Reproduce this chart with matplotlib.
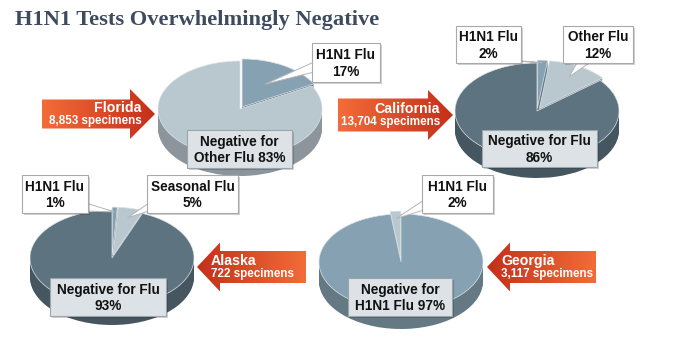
import numpy as np
import matplotlib
matplotlib.use("Agg")
import matplotlib.pyplot as plt
from matplotlib.patches import Polygon, Rectangle
from matplotlib.colors import LinearSegmentedColormap, to_rgb

W, H = 685, 361

title = "H1N1 Tests Overwhelmingly Negative"

# state panels
states = ["Florida", "California", "Alaska", "Georgia"]
specimens = ["8,853 specimens", "13,704 specimens", "722 specimens", "3,117 specimens"]

fl_values = [17, 83]
fl_labels = ["H1N1 Flu\n17%", "Negative for\nOther Flu 83%"]

ca_values = [2, 12, 86]
ca_labels = ["H1N1 Flu\n2%", "Other Flu\n12%", "Negative for Flu\n86%"]

ak_values = [1, 5, 93]
ak_labels = ["H1N1 Flu\n1%", "Seasonal Flu\n5%", "Negative for Flu\n93%"]

ga_values = [2, 97]
ga_labels = ["H1N1 Flu\n2%", "Negative for\nH1N1 Flu 97%"]

LIGHT = "#b9c7cf"
MID = "#86a1b2"
DARK = "#5d7380"

FONT = "Liberation Sans"
TEXT_COLOR = "#111111"


def darker(c, f=0.75):
    r, g, b = to_rgb(c)
    return (r * f, g * f, b * f)


def wedge_angles(values, counterclock):
    # mid angle of every slice, starting at 12 o'clock
    frac = np.cumsum([0] + list(values)) / float(sum(values))
    sign = 1 if counterclock else -1
    return [90 + sign * 360 * (frac[i] + frac[i + 1]) / 2 for i in range(len(values))]


def draw_pie(fig, cx, cy, values, colors, explode, counterclock, a=82, b=48, depth=19):
    ylo = -1 - depth / b - 0.15
    yhi = 1.15
    ax = fig.add_axes([(cx - 1.15 * a) / W, (H - cy + ylo * b) / H,
                       2.3 * a / W, (yhi - ylo) * b / H])
    side = [darker(c) for c in colors]
    for k in range(depth, 0, -1):
        ax.pie(values, colors=side, explode=explode, startangle=90,
               counterclock=counterclock, center=(0, -k / b), radius=1,
               wedgeprops=dict(linewidth=0))
    ax.pie(values, colors=colors, explode=explode, startangle=90,
           counterclock=counterclock, radius=1,
           wedgeprops=dict(linewidth=0.5, edgecolor="#dde4e8"))
    ax.set_aspect("auto")
    ax.set_xlim(-1.15, 1.15)
    ax.set_ylim(ylo, yhi)
    ax.axis("off")
    ax.set_zorder(1)
    mids = wedge_angles(values, counterclock)

    def point(i, r):
        t = np.radians(mids[i])
        e = explode[i]
        return cx + (e + r) * a * np.cos(t), cy - (e + r) * b * np.sin(t)
    return point


def box(ax, x0, y0, x1, y1, text, fill="white", edge="#a9a9a9"):
    ax.add_patch(Rectangle((x0 + 2, y0 + 2), x1 - x0, y1 - y0, facecolor="#000000",
                           alpha=0.18, linewidth=0, zorder=4))
    ax.add_patch(Rectangle((x0, y0), x1 - x0, y1 - y0, facecolor=fill,
                           edgecolor=edge, linewidth=0.8, zorder=5))
    ax.text((x0 + x1) / 2, (y0 + y1) / 2 + 1, text, ha="center", va="center",
            fontsize=9.8, fontweight="bold", family=FONT, color=TEXT_COLOR,
            linespacing=1.2, zorder=6)


def pointer(ax, p1, p2, tip):
    ax.add_patch(Polygon([p1, tip, p2], closed=True, facecolor="white",
                         edgecolor="#b5b5b5", linewidth=0.7, zorder=3))


def arrow(ax, x_tip, x_base, x_end, yc, body_h, head_h, name, count, right=True):
    pts = [(x_end, yc - body_h / 2), (x_base, yc - body_h / 2), (x_base, yc - head_h / 2),
           (x_tip, yc), (x_base, yc + head_h / 2), (x_base, yc + body_h / 2),
           (x_end, yc + body_h / 2)]
    if right:
        colors = ["#f36c38", "#c3301a"]
        lo, hi = x_end, x_tip
    else:
        colors = ["#c3301a", "#f36c38"]
        lo, hi = x_tip, x_end
    poly = Polygon(pts, closed=True, facecolor="none", edgecolor="none")
    ax.add_patch(poly)
    cmap = LinearSegmentedColormap.from_list("arr", colors)
    grad = np.linspace(0, 1, 256).reshape(1, -1)
    im = ax.imshow(grad, cmap=cmap, extent=(lo, hi, yc + head_h / 2, yc - head_h / 2),
                   aspect="auto", zorder=2, interpolation="bicubic")
    im.set_clip_path(poly)
    if right:
        tx, ha = x_base + 12, "right"
    else:
        tx, ha = x_base - 9, "left"
    ax.text(tx, yc - 6, name, ha=ha, va="center", fontsize=10.2, fontweight="bold",
            family=FONT, color="white", zorder=3)
    ax.text(tx, yc + 7, count, ha=ha, va="center", fontsize=8.4, fontweight="bold",
            family=FONT, color="white", zorder=3)


fig = plt.figure(figsize=(W / 100, H / 100), dpi=100)
fig.patch.set_facecolor("white")

# pies
fl_pt = draw_pie(fig, 240, 109, fl_values, [MID, LIGHT], [0.05, 0], False)
ca_pt = draw_pie(fig, 537, 111, ca_values, [MID, LIGHT, DARK], [0.06, 0.06, 0], False)
ak_pt = draw_pie(fig, 112, 258, ak_values, [MID, LIGHT, DARK], [0.06, 0.06, 0], False)
ga_pt = draw_pie(fig, 401, 262, ga_values, [LIGHT, MID], [0.06, 0], True)

# overlay in pixel coordinates
ov = fig.add_axes([0, 0, 1, 1])
ov.set_zorder(2)
ov.patch.set_alpha(0)
ov.axis("off")

ov.text(15, 25, title, ha="left", va="baseline", fontsize=16.2, fontweight="bold",
        family="Liberation Serif", color="#3e4b5e")

# Florida
arrow(ov, 155, 130, 42, 114, 29, 50, states[0], specimens[0], right=True)
pointer(ov, (314, 62), (314, 72), fl_pt(0, 0.55))
box(ov, 312, 43, 380, 82, fl_labels[0])
box(ov, 187, 130, 292, 168, fl_labels[1], fill="#dce2e5", edge="#9ba6ac")

# California
arrow(ov, 453, 428, 338, 115, 33, 50, states[1], specimens[1], right=True)
pointer(ov, (512, 61), (521, 61), ca_pt(0, 0.95))
pointer(ov, (578, 61), (592, 61), ca_pt(1, 0.75))
box(ov, 456, 26, 521, 63, ca_labels[0])
box(ov, 563, 26, 633, 63, ca_labels[1])
box(ov, 482, 130, 597, 167, ca_labels[2], fill="#dce2e5", edge="#9ba6ac")

# Alaska
arrow(ov, 197, 220, 306, 267, 32, 49, states[2], specimens[2], right=False)
pointer(ov, (86, 203), (86, 211), ak_pt(0, 0.9))
pointer(ov, (149, 203), (149, 211), ak_pt(1, 0.8))
box(ov, 22, 175, 88, 213, ak_labels[0])
box(ov, 147, 175, 238, 213, ak_labels[1])
box(ov, 50, 278, 166, 316, ak_labels[2], fill="#dce2e5", edge="#9ba6ac")

# Georgia
arrow(ov, 487, 510, 596, 267, 32, 49, states[3], specimens[3], right=False)
pointer(ov, (424, 200), (424, 210), ga_pt(0, 0.85))
box(ov, 422, 175, 493, 213, ga_labels[0])
box(ov, 348, 278, 452, 316, ga_labels[1], fill="#dce2e5", edge="#9ba6ac")

ov.set_xlim(0, W)
ov.set_ylim(H, 0)

fig.savefig("out.png", dpi=100)
